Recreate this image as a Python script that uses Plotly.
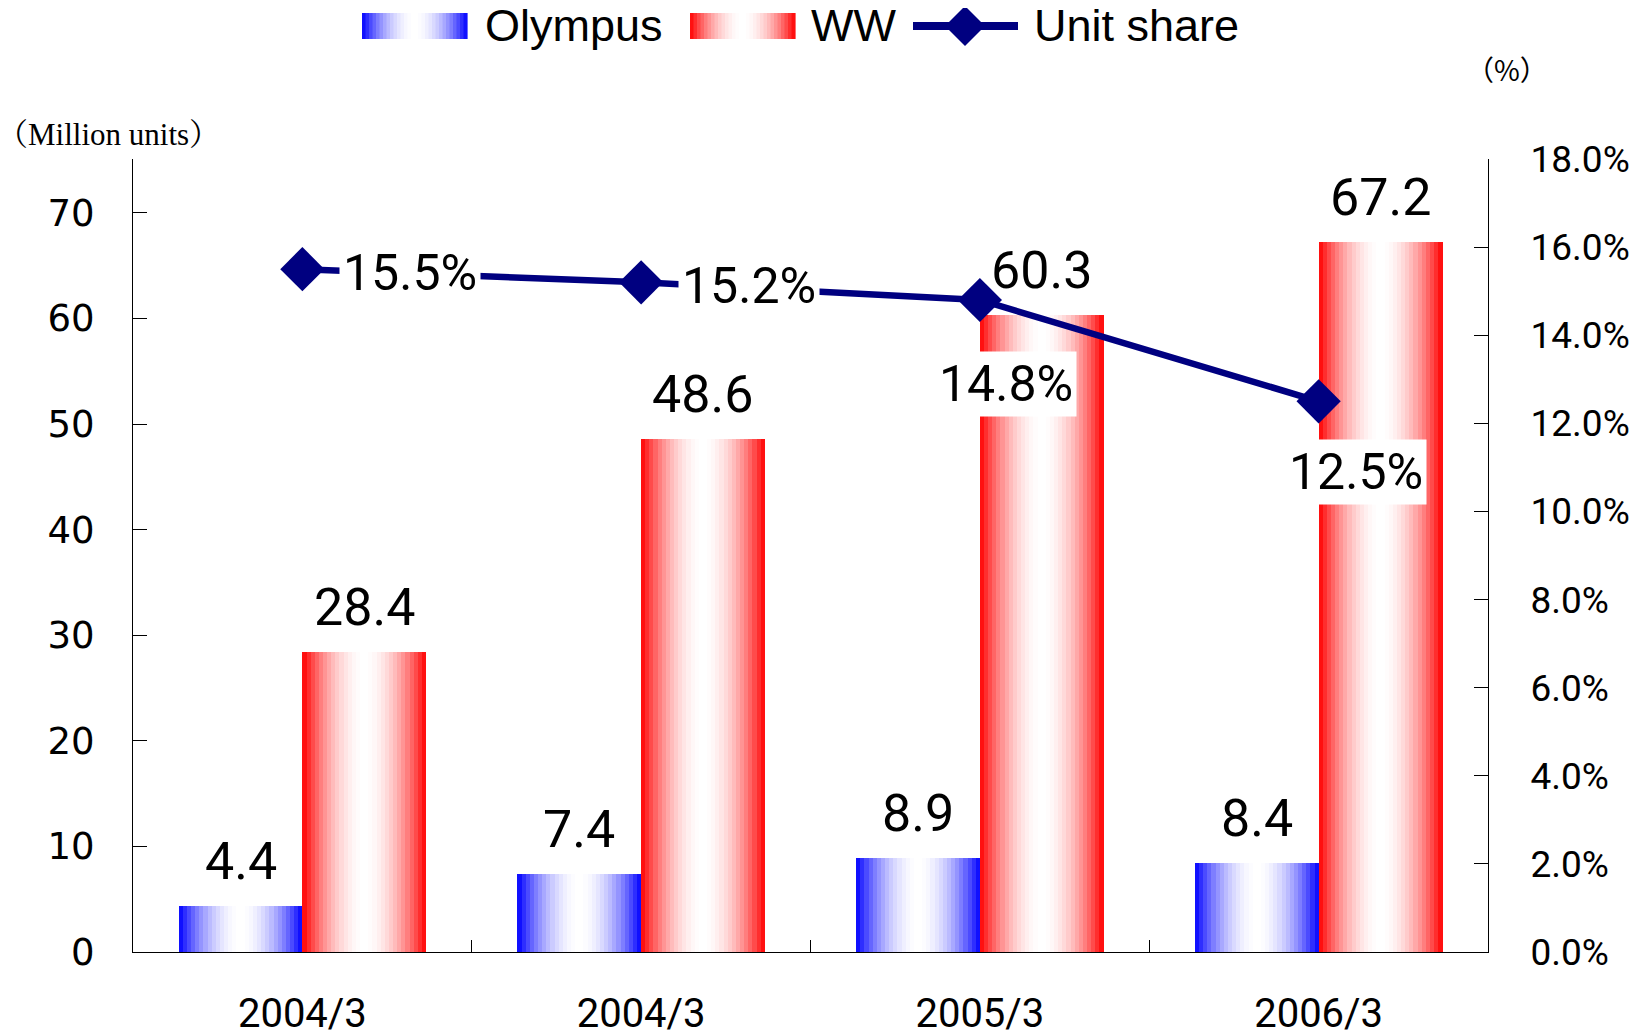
import plotly.graph_objects as go

# ---- data ----
categories = ["2004/3", "2004/3", "2005/3", "2006/3"]
olympus = [4.4, 7.4, 8.9, 8.4]
ww = [28.4, 48.6, 60.3, 67.2]
unit_share = [15.5, 15.2, 14.8, 12.5]
left_ticks = [0, 10, 20, 30, 40, 50, 60, 70]
right_ticks = [0, 2, 4, 6, 8, 10, 12, 14, 16, 18]
right_labels = [f"{v:.1f}%" for v in right_ticks]

positions = list(range(len(categories)))

# ---- style ----
W = 0.365          # bar width in category units
N = 30             # gradient strips per bar
BLUE = (0, 0, 255)
RED = (255, 0, 0)
NAVY = "#000080"
NUM = "Roboto, Liberation Sans, sans-serif"
SANS = "Liberation Sans, Arial, sans-serif"

OFF = 8  # page body margin
FW, FH = 1641, 1034
# plot area in page px, converted to figure px
PL, PR, PT, PB = 133 - OFF, 1488 - OFF, 159 - OFF, 952 - OFF


def px_x(px):
    return (px - OFF - PL) / (PR - PL)


def px_y(py):
    return (PB - (py - OFF)) / (PB - PT)


def strip_color(base, k, n):
    t = (k + 0.5) / n
    d = abs(2 * t - 1)
    f = d ** 1.9
    r = int(round(base[0] * f + 255 * (1 - f)))
    g = int(round(base[1] * f + 255 * (1 - f)))
    b = int(round(base[2] * f + 255 * (1 - f)))
    return f"rgb({r},{g},{b})"


fig = go.Figure()

w = W / N
for series, base, start in ((olympus, BLUE, -W), (ww, RED, 0.0)):
    for k in range(N):
        fig.add_trace(go.Bar(
            x=positions, y=series,
            offset=start + k * w, width=w * 1.08,
            marker=dict(color=strip_color(base, k, N), line=dict(width=0)),
            showlegend=False, hoverinfo="skip", yaxis="y",
        ))

fig.add_trace(go.Scatter(
    x=positions, y=unit_share, yaxis="y2", mode="lines+markers",
    line=dict(color=NAVY, width=6.5),
    marker=dict(symbol="diamond", size=34, color=NAVY),
    showlegend=False, hoverinfo="skip",
))

annotations = []
# bar value labels
for i, v in zip(positions, olympus):
    annotations.append(dict(x=i - W / 2, y=v, xref="x", yref="y", text=f"{v}",
                            showarrow=False, yanchor="bottom", yshift=12,
                            font=dict(family=NUM, size=52, color="black")))
for i, v in zip(positions, ww):
    annotations.append(dict(x=i + W / 2, y=v, xref="x", yref="y", text=f"{v}",
                            showarrow=False, yanchor="bottom", yshift=12,
                            font=dict(family=NUM, size=52, color="black")))

# share labels (px offsets from marker)
share_offsets = [(108, -4), (108, -4), (26, -84), (37, -71)]
for i, v, (dx, dy) in zip(positions, unit_share, share_offsets):
    annotations.append(dict(x=i, y=v, xref="x", yref="y2", text=f"{v:.1f}%",
                            showarrow=False, xshift=dx, yshift=dy,
                            bgcolor="white", borderpad=3,
                            font=dict(family=NUM, size=50, color="black")))

# axis titles
annotations.append(dict(x=px_x(108), y=px_y(134), xref="paper", yref="paper",
                        xanchor="center", yanchor="middle",
                        text="（Million units）", showarrow=False,
                        font=dict(family="Liberation Serif, Noto Serif CJK JP, serif", size=31, color="black")))
annotations.append(dict(x=px_x(1507), y=px_y(69), xref="paper", yref="paper",
                        xanchor="center", yanchor="middle",
                        text="（%）", showarrow=False,
                        font=dict(family="Noto Sans CJK JP, sans-serif", size=28, color="black")))

# custom legend
shapes = []
LEG_Y0, LEG_Y1 = 13, 39
for base, x0, x1 in ((BLUE, 362, 467), (RED, 690, 795)):
    sw = (x1 - x0) / N
    for k in range(N):
        shapes.append(dict(type="rect", xref="paper", yref="paper",
                           x0=px_x(x0 + k * sw), x1=px_x(x0 + (k + 1) * sw + 0.6),
                           y0=px_y(LEG_Y1), y1=px_y(LEG_Y0),
                           fillcolor=strip_color(base, k, N), line=dict(width=0)))
shapes.append(dict(type="line", xref="paper", yref="paper",
                   x0=px_x(913), x1=px_x(1018), y0=px_y(26), y1=px_y(26),
                   line=dict(color=NAVY, width=8)))
shapes.append(dict(type="path", xref="paper", yref="paper",
                   xsizemode="pixel", ysizemode="pixel",
                   xanchor=px_x(965), yanchor=px_y(26),
                   path="M -20 0 L 0 20 L 20 0 L 0 -20 Z",
                   fillcolor=NAVY, line=dict(width=0)))

for label, x in (("Olympus", 483), ("WW", 809), ("Unit share", 1032)):
    annotations.append(dict(x=px_x(x), y=px_y(26), xref="paper", yref="paper",
                            text=label, showarrow=False, xanchor="left", yanchor="middle",
                            font=dict(family=SANS, size=45, color="black")))

fig.update_layout(
    width=FW, height=FH, autosize=False,
    margin=dict(l=PL, r=FW - PR, t=PT, b=FH - PB, autoexpand=False),
    paper_bgcolor="white", plot_bgcolor="white",
    barmode="overlay", bargap=0,
    showlegend=False,
    xaxis=dict(range=[-0.5, 3.5], tickmode="array", tickvals=positions, ticktext=categories,
               ticks="", showline=True, linecolor="black", linewidth=1.2,
               showgrid=False, zeroline=False, automargin=False,
               tickfont=dict(family=NUM, size=40, color="black"), ticklabelstandoff=26,
               minor=dict(tickmode="array", tickvals=[0.5, 1.5, 2.5], ticks="inside",
                          ticklen=12, tickcolor="black", tickwidth=1.2, showgrid=False)),
    yaxis=dict(range=[0, 75.1], tickmode="array", tickvals=left_ticks,
               ticks="inside", ticklen=14, tickcolor="black", tickwidth=1.2,
               showline=True, linecolor="black", linewidth=1.2,
               showgrid=False, zeroline=False, automargin=False,
               tickfont=dict(family="DejaVu Sans, sans-serif", size=37, color="black"),
               ticklabelstandoff=30),
    yaxis2=dict(range=[0, 18], overlaying="y", side="right", tickmode="array",
                tickvals=right_ticks, ticktext=right_labels,
                ticks="inside", ticklen=14, tickcolor="black", tickwidth=1.2,
                showline=True, linecolor="black", linewidth=1.2,
                showgrid=False, zeroline=False, automargin=False,
                tickfont=dict(family=NUM, size=37, color="black"),
                ticklabelstandoff=34),
    annotations=annotations,
    shapes=shapes,
)

fig.write_html("out.html")
